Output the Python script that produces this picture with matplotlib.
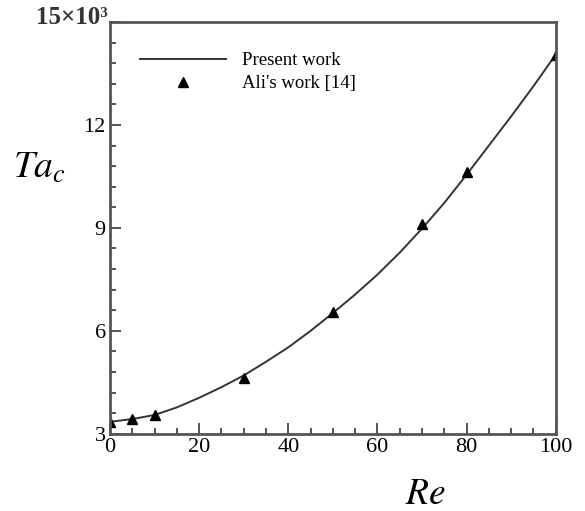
import matplotlib.pyplot as plt
from matplotlib.ticker import MultipleLocator

# Critical Taylor number vs Reynolds number
re_line = [0, 5, 10, 15, 20, 25, 30, 35, 40, 45, 50, 55, 60, 65, 70, 75, 80, 85, 90, 95, 100]
tac_line = [3.35, 3.43, 3.55, 3.77, 4.05, 4.36, 4.70, 5.10, 5.52, 6.00, 6.52,
            7.06, 7.64, 8.28, 8.98, 9.73, 10.55, 11.40, 12.25, 13.13, 14.05]

re_ali = [0, 5, 10, 30, 50, 70, 80, 100]
tac_ali = [3.35, 3.44, 3.55, 4.63, 6.55, 9.12, 10.63, 14.04]

y_ticks = [3, 6, 9, 12, 15]
y_labels = ['3', '6', '9', '12', '']

plt.rcParams['font.family'] = ['Liberation Serif', 'DejaVu Serif']

fig = plt.figure(figsize=(5.85, 5.11), dpi=100)
ax = fig.add_axes([0.188, 0.151, 0.762, 0.806])

ax.plot(re_line, tac_line, color='#333333', lw=1.4, label='Present work')
ax.plot(re_ali, tac_ali, ls='none', marker='^', ms=7, color='black', label="Ali's work [14]")

ax.set_xlim(0, 100)
ax.set_ylim(3, 15)
ax.xaxis.set_major_locator(MultipleLocator(20))
ax.xaxis.set_minor_locator(MultipleLocator(5))
ax.set_yticks(y_ticks)
ax.set_yticklabels(y_labels)
ax.yaxis.set_minor_locator(MultipleLocator(0.6))
ax.tick_params(which='both', direction='in', top=False, right=False,
               labelsize=16, color='#444444', width=1.3)
ax.tick_params(which='major', length=8, pad=3)
ax.tick_params(which='minor', length=4)
for s in ax.spines.values():
    s.set_linewidth(2)
    s.set_color('#555555')

# top label carries the exponent
fig.text(0.185, 0.966, '15×10³', fontsize=18, fontweight='bold',
         ha='right', va='center', color='#333333')

fig.text(0.068, 0.67, r'$Ta_c$', fontsize=27, ha='center', va='center',
         math_fontfamily='stix')
fig.text(0.727, 0.032, r'$Re$', fontsize=27, ha='center', va='center',
         math_fontfamily='stix')

ax.legend(loc='upper left', bbox_to_anchor=(0.067, 0.927), frameon=False,
          borderpad=0, borderaxespad=0, fontsize=13.5, handlelength=4.6,
          handletextpad=0.85, labelspacing=0.32)

fig.savefig('out.png', dpi=100)
